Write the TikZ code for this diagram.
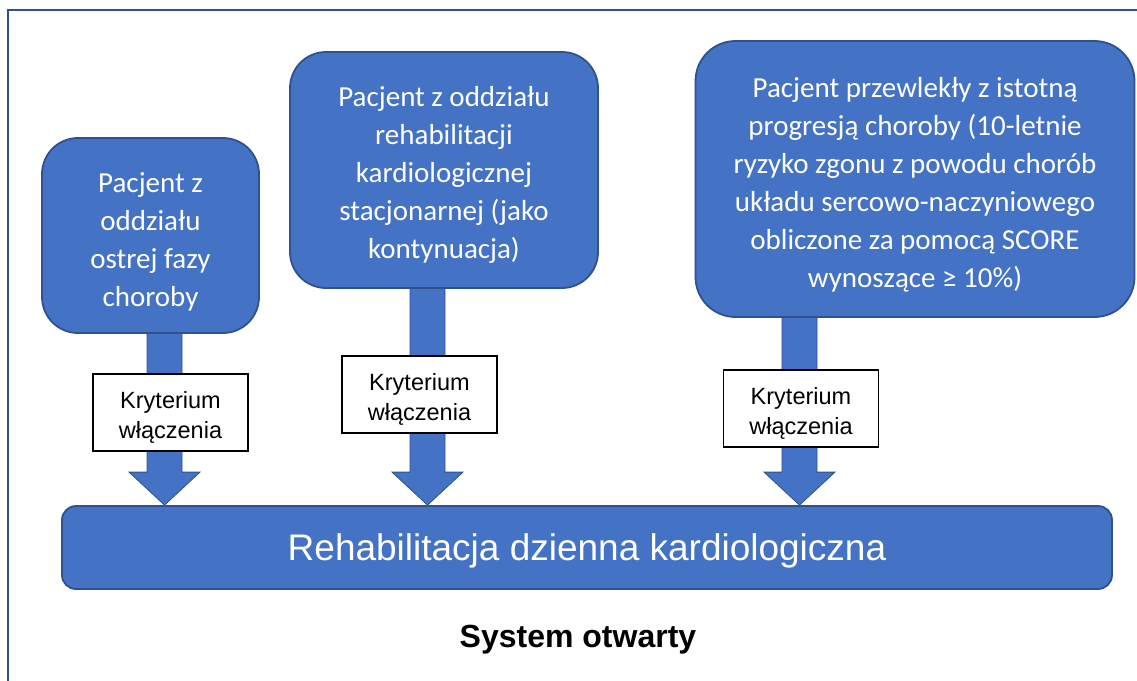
\documentclass[tikz,border=0pt]{standalone}
\usepackage{fontspec}
\setmainfont{Carlito}
\newfontfamily\arial{Liberation Sans}
\usetikzlibrary{calc,backgrounds}
\definecolor{boxblue}{HTML}{4472C4}
\definecolor{edgeblue}{HTML}{2F528F}
\newcommand{\sw}{17.5}% half shaft width
\newcommand{\hw}{35.5}% half head width
\newcommand{\hl}{33}%   head length
\newcommand{\dn}[1]{\rule{0pt}{#1}}% pushes the text block down a little

\begin{document}
\begin{tikzpicture}[x=1pt,y=-1pt,
  patient/.style={draw=edgeblue,line width=1.8pt,fill=boxblue,text=white,rounded corners=36pt,
    align=center,inner sep=0pt,font=\fontsize{29}{38}\selectfont},
  crit/.style={draw=black,line width=1.2pt,fill=white,align=center,inner sep=0pt,
    minimum width=155pt,minimum height=77pt,font=\arial\fontsize{23.5}{30}\selectfont},
  blockarrow/.style={fill=boxblue,draw=edgeblue,line width=0.8pt}]
\useasboundingbox (0,0) rectangle (1137,680);
\draw[edgeblue,line width=2.5pt] (8,690) -- (8,10) -- (1145,10);

\node[patient,minimum width=217pt,minimum height=195pt] (p1) at (150.5,235.5)
  {\dn{32pt}Pacjent z\\oddziału\\ostrej fazy\\choroby};
\node[patient,minimum width=308pt,minimum height=236pt] (p2) at (444,170)
  {\dn{30pt}Pacjent z oddziału\\rehabilitacji\\kardiologicznej\\stacjonarnej (jako\\kontynuacja)};
\node[patient,rounded corners=40pt,minimum width=439pt,minimum height=276pt] (p3) at (915,179)
  {\dn{31pt}Pacjent przewlekły z istotną\\progresją choroby (10-letnie\\ryzyko zgonu z powodu chorób\\układu sercowo-naczyniowego\\obliczone za pomocą SCORE\\wynoszące ≥ 10\%)};
\node[patient,rounded corners=14pt,minimum width=1050pt,minimum height=83pt,
  font=\arial\fontsize{37}{44}\selectfont] (r) at (587,547.5) {\dn{33pt}Rehabilitacja dzienna kardiologiczna};
\node[font=\arial\bfseries\fontsize{32}{38}\selectfont] (s) at (578,640) {System otwarty};

\node[crit] (k1) at (170.5,412.5) {\dn{27pt}Kryterium\\włączenia};
\node[crit] (k2) at (419.5,394.5) {\dn{27pt}Kryterium\\włączenia};
\node[crit] (k3) at (801,408.5) {\dn{27pt}Kryterium\\włączenia};

% block arrows behind the boxes
\begin{scope}[on background layer]
\foreach \n/\x in {p1/164.5,p2/427.5,p3/799.5}{
  \path (\x,0) coordinate (xx);
  \coordinate (top) at (xx |- \n.south);
  \coordinate (tip) at (xx |- r.north);
  \filldraw[blockarrow] ($(top)+(-\sw,-2)$) -- ($(tip)+(-\sw,-\hl)$) -- ($(tip)+(-\hw,-\hl)$) -- (tip)
    -- ($(tip)+(\hw,-\hl)$) -- ($(tip)+(\sw,-\hl)$) -- ($(top)+(\sw,-2)$) -- cycle;
}
\end{scope}
\end{tikzpicture}
\end{document}
